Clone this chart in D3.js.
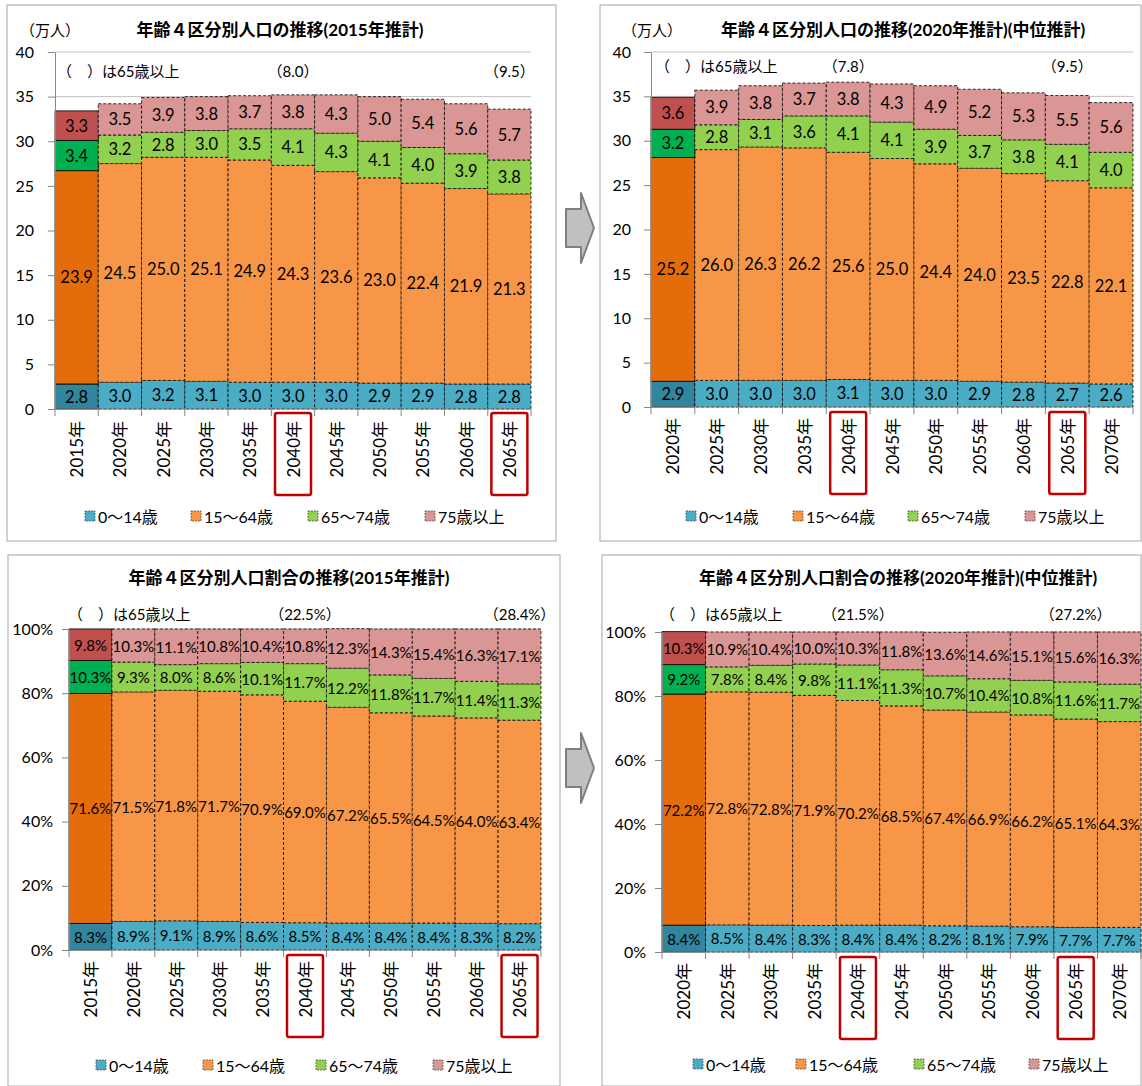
<!DOCTYPE html>
<html lang="ja">
<head>
<meta charset="utf-8">
<title>年齢4区分別人口の推移</title>
<script src="https://d3js.org/d3.v7.min.js"></script>
<style>
  body { margin: 0; background: #fff; }
  svg text { font-family: Lato, "Noto Sans CJK JP", sans-serif; fill: #000; }
</style>
</head>
<body>
<script>
// ---- data ----
var seriesNames = ["0〜14歳", "15〜64歳", "65〜74歳", "75歳以上"];

var years2015 = ["2015年","2020年","2025年","2030年","2035年","2040年","2045年","2050年","2055年","2060年","2065年"];
var years2020 = ["2020年","2025年","2030年","2035年","2040年","2045年","2050年","2055年","2060年","2065年","2070年"];

// 万人, 2015年推計
var kids2015  = [2.8, 3.0, 3.2, 3.1, 3.0, 3.0, 3.0, 2.9, 2.9, 2.8, 2.8];
var work2015  = [23.9, 24.5, 25.0, 25.1, 24.9, 24.3, 23.6, 23.0, 22.4, 21.9, 21.3];
var young2015 = [3.4, 3.2, 2.8, 3.0, 3.5, 4.1, 4.3, 4.1, 4.0, 3.9, 3.8];
var old2015   = [3.3, 3.5, 3.9, 3.8, 3.7, 3.8, 4.3, 5.0, 5.4, 5.6, 5.7];

// 万人, 2020年推計(中位)
var kids2020  = [2.9, 3.0, 3.0, 3.0, 3.1, 3.0, 3.0, 2.9, 2.8, 2.7, 2.6];
var work2020  = [25.2, 26.0, 26.3, 26.2, 25.6, 25.0, 24.4, 24.0, 23.5, 22.8, 22.1];
var young2020 = [3.2, 2.8, 3.1, 3.6, 4.1, 4.1, 3.9, 3.7, 3.8, 4.1, 4.0];
var old2020   = [3.6, 3.9, 3.8, 3.7, 3.8, 4.3, 4.9, 5.2, 5.3, 5.5, 5.6];

// %, 2015年推計
var kidsPct2015  = [8.3, 8.9, 9.1, 8.9, 8.6, 8.5, 8.4, 8.4, 8.4, 8.3, 8.2];
var workPct2015  = [71.6, 71.5, 71.8, 71.7, 70.9, 69.0, 67.2, 65.5, 64.5, 64.0, 63.4];
var youngPct2015 = [10.3, 9.3, 8.0, 8.6, 10.1, 11.7, 12.2, 11.8, 11.7, 11.4, 11.3];
var oldPct2015   = [9.8, 10.3, 11.1, 10.8, 10.4, 10.8, 12.3, 14.3, 15.4, 16.3, 17.1];

// %, 2020年推計(中位)
var kidsPct2020  = [8.4, 8.5, 8.4, 8.3, 8.4, 8.4, 8.2, 8.1, 7.9, 7.7, 7.7];
var workPct2020  = [72.2, 72.8, 72.8, 71.9, 70.2, 68.5, 67.4, 66.9, 66.2, 65.1, 64.3];
var youngPct2020 = [9.2, 7.8, 8.4, 9.8, 11.1, 11.3, 10.7, 10.4, 10.8, 11.6, 11.7];
var oldPct2020   = [10.3, 10.9, 10.4, 10.0, 10.3, 11.8, 13.6, 14.6, 15.1, 15.6, 16.3];

var countTicks = [0, 5, 10, 15, 20, 25, 30, 35, 40];
var pctTicks = [0, 20, 40, 60, 80, 100];

var highlightYears = ["2040年", "2065年"];
var notes2015 = [["2040年", "（8.0）"], ["2065年", "（9.5）"]];
var notes2020 = [["2040年", "（7.8）"], ["2065年", "（9.5）"]];
var notesPct2015 = [["2040年", "（22.5%）"], ["2065年", "（28.4%）"]];
var notesPct2020 = [["2040年", "（21.5%）"], ["2065年", "（27.2%）"]];

// ---- styles ----
var actualColors = ["#31859C", "#E46C0A", "#00B050", "#C0504D"];
var projColors = ["#4BACC6", "#F79646", "#92D050", "#D99694"];

var svg = d3.select("body").append("svg")
  .attr("width", 1142).attr("height", 1086);

function drawPanel(p) {
  var g = svg.append("g");

  g.append("rect")
    .attr("x", p.box[0]).attr("y", p.box[1])
    .attr("width", p.box[2]).attr("height", p.box[3])
    .attr("fill", "none").attr("stroke", "#a6a6a6");

  var x = d3.scaleBand().domain(p.years).range([p.x0, p.x1]).padding(0);
  var y = d3.scaleLinear().domain([0, d3.max(p.ticks)]).range([p.yBot, p.yTop]);

  // gridlines
  g.selectAll(".grid").data(p.ticks.filter(function(t) { return t > 0; }))
    .enter().append("line")
    .attr("x1", p.x0).attr("x2", p.x1)
    .attr("y1", function(d) { return y(d); }).attr("y2", function(d) { return y(d); })
    .attr("stroke", "#c0c0c0");

  var rows = p.years.map(function(yr, i) {
    return { year: yr, i: i, a: p.series[0][i], b: p.series[1][i], c: p.series[2][i], d: p.series[3][i] };
  });
  var layers = d3.stack().keys(["a", "b", "c", "d"])(rows);

  layers.forEach(function(layer, li) {
    var lg = g.append("g");
    lg.selectAll("rect").data(layer).enter().append("rect")
      .attr("x", function(d) { return x(d.data.year); })
      .attr("width", x.bandwidth())
      .attr("y", function(d) { return y(d[1]); })
      .attr("height", function(d) { return y(d[0]) - y(d[1]); })
      .attr("fill", function(d) { return d.data.i === 0 ? actualColors[li] : projColors[li]; })
      .attr("stroke", "#000")
      .attr("stroke-width", 0.8)
      .attr("stroke-dasharray", function(d) { return d.data.i === 0 ? null : "3,2"; });
  });

  layers.forEach(function(layer, li) {
    g.append("g").selectAll("text").data(layer).enter().append("text")
      .attr("x", function(d) { return x(d.data.year) + x.bandwidth() / 2; })
      .attr("y", function(d) { return y((d[0] + d[1]) / 2); })
      .attr("text-anchor", "middle")
      .attr("dominant-baseline", "central")
      .style("font-size", p.labelSize + "px")
      .text(function(d) { return p.series[li][d.data.i].toFixed(1) + p.suffix; });
  });

  // y axis
  var yAxis = d3.axisLeft(y).tickValues(p.ticks).tickSize(7).tickSizeOuter(0).tickPadding(p.tickPad)
    .tickFormat(function(d) { return d + p.suffix; });
  var ya = g.append("g").attr("transform", "translate(" + p.x0 + ",0)").call(yAxis);
  ya.selectAll("path, line").attr("stroke", "#868686");
  ya.selectAll("text").style("font-size", "16px").style("font-family", "Lato, sans-serif");

  // x axis line + boundary ticks
  g.append("line").attr("x1", p.x0).attr("x2", p.x1).attr("y1", p.yBot).attr("y2", p.yBot)
    .attr("stroke", "#868686");
  var bounds = p.years.map(function(yr) { return x(yr); }).concat([p.x1]);
  g.selectAll(".xt").data(bounds).enter().append("line")
    .attr("x1", function(d) { return d; }).attr("x2", function(d) { return d; })
    .attr("y1", p.yBot).attr("y2", p.yBot + 7)
    .attr("stroke", "#868686");

  g.selectAll(".xl").data(p.years).enter().append("text")
    .attr("transform", function(d) {
      return "translate(" + (x(d) + x.bandwidth() / 2) + "," + p.xLabelTop + ") rotate(-90)";
    })
    .attr("text-anchor", "end")
    .attr("dominant-baseline", "central")
    .style("font-size", "17px")
    .text(function(d) { return d; });

  // highlight boxes
  g.selectAll(".hl").data(highlightYears).enter().append("rect")
    .attr("x", function(d) { return x(d) + x.bandwidth() / 2 - 18; })
    .attr("y", p.hlTop).attr("width", 36).attr("height", 82)
    .attr("rx", 2)
    .attr("fill", "none").attr("stroke", "#C00000").attr("stroke-width", 2.5);

  // titles and notes
  g.append("text").attr("x", p.titleX).attr("y", p.titleY)
    .attr("text-anchor", "middle")
    .style("font-size", "17px").style("font-weight", "bold")
    .text(p.title);
  if (p.unit) {
    g.append("text").attr("x", p.unitX).attr("y", p.titleY)
      .style("font-size", "15px").text(p.unit);
  }
  g.append("text").attr("x", p.noteX).attr("y", p.noteY)
    .style("font-size", "15px").text("（　）は65歳以上");
  g.selectAll(".note").data(p.notes).enter().append("text")
    .attr("x", function(d) { return x(d[0]) + x.bandwidth() / 2; })
    .attr("y", p.noteY)
    .attr("text-anchor", "middle")
    .style("font-size", "15px")
    .text(function(d) { return d[1]; });

  // legend
  var lg = g.selectAll(".lg").data(seriesNames).enter().append("g")
    .attr("transform", function(d, i) { return "translate(" + p.legendX[i] + "," + p.legendY + ")"; });
  lg.append("rect").attr("x", 0).attr("y", -5).attr("width", 10).attr("height", 10)
    .attr("fill", function(d, i) { return projColors[i]; })
    .attr("stroke", "#555").attr("stroke-width", 0.8).attr("stroke-dasharray", "2,1");
  lg.append("text").attr("x", 13).attr("y", 0)
    .attr("dominant-baseline", "central")
    .style("font-size", "16px")
    .text(function(d) { return d; });
}

drawPanel({
  box: [7, 5, 549, 536], x0: 55, x1: 531, yTop: 52, yBot: 409,
  years: years2015, series: [kids2015, work2015, young2015, old2015],
  ticks: countTicks, suffix: "", labelSize: 16.5, tickPad: 14,
  xLabelTop: 421, hlTop: 413,
  title: "年齢４区分別人口の推移(2015年推計)", titleX: 280, titleY: 36,
  unit: "（万人）", unitX: 20,
  noteX: 57, noteY: 77, notes: notes2015,
  legendY: 516, legendX: [85, 191, 308, 425]
});

drawPanel({
  box: [600, 5, 541, 536], x0: 651, x1: 1133, yTop: 52, yBot: 407,
  years: years2020, series: [kids2020, work2020, young2020, old2020],
  ticks: countTicks, suffix: "", labelSize: 16.5, tickPad: 13,
  xLabelTop: 418, hlTop: 412,
  title: "年齢４区分別人口の推移(2020年推計)(中位推計)", titleX: 903, titleY: 36,
  unit: "（万人）", unitX: 622,
  noteX: 655, noteY: 72, notes: notes2020,
  legendY: 516, legendX: [686, 793, 908, 1025]
});

drawPanel({
  box: [8, 555, 552, 531], x0: 69, x1: 541, yTop: 629, yBot: 950,
  years: years2015, series: [kidsPct2015, workPct2015, youngPct2015, oldPct2015],
  ticks: pctTicks, suffix: "%", labelSize: 15, tickPad: 9,
  xLabelTop: 961, hlTop: 955,
  title: "年齢４区分別人口割合の推移(2015年推計)", titleX: 289, titleY: 584,
  noteX: 68, noteY: 620, notes: notesPct2015,
  legendY: 1065, legendX: [96, 203, 316, 433]
});

drawPanel({
  box: [602, 555, 539, 531], x0: 662, x1: 1141, yTop: 632, yBot: 952,
  years: years2020, series: [kidsPct2020, workPct2020, youngPct2020, oldPct2020],
  ticks: pctTicks, suffix: "%", labelSize: 15, tickPad: 9,
  xLabelTop: 963, hlTop: 957,
  title: "年齢４区分別人口割合の推移(2020年推計)(中位推計)", titleX: 898, titleY: 584,
  noteX: 660, noteY: 620, notes: notesPct2020,
  legendY: 1064, legendX: [693, 796, 914, 1029]
});

// arrows between the panels
function arrow(tx, ty) {
  var pts = [[tx - 28, ty - 19], [tx - 13, ty - 19], [tx - 13, ty - 35], [tx, ty],
             [tx - 13, ty + 35], [tx - 13, ty + 19], [tx - 28, ty + 19]];
  svg.append("path")
    .attr("d", d3.line()(pts) + "Z")
    .attr("fill", "#c0c0c0").attr("stroke", "#808080").attr("stroke-width", 2)
    .attr("stroke-linejoin", "round");
}
arrow(594, 228);
arrow(594, 768);
</script>
</body>
</html>
